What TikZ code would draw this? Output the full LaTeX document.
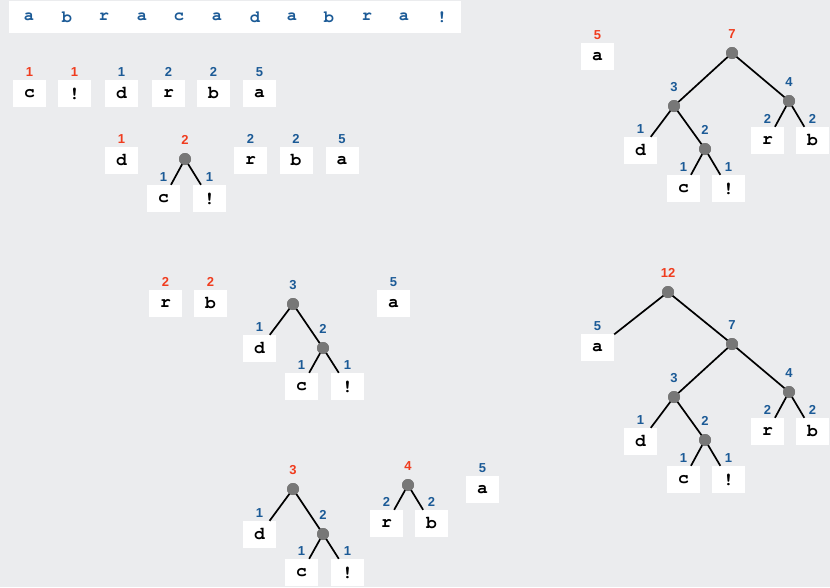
\documentclass[tikz,border=0pt]{standalone}
\usepackage{fontspec}
\setmonofont{TeX Gyre Cursor}
\newfontfamily\lblfont{Liberation Sans}
\definecolor{bg}{HTML}{EBECEE}
\definecolor{lblue}{HTML}{1B5A96}
\definecolor{lred}{HTML}{F03C1E}
\definecolor{dotgray}{HTML}{777777}
\tikzset{
  leafbox/.style={fill=white, minimum width=33pt, minimum height=27pt, inner sep=0pt,
    font=\ttfamily\bfseries\fontsize{18}{18}\selectfont},
  numlbl/.style={inner sep=0pt, font=\lblfont\bfseries\fontsize{13}{13}\selectfont},
  dotnode/.style={circle, fill=dotgray, minimum size=12pt, inner sep=0pt},
  edge/.style={draw=black, line width=1.7pt},
  barletter/.style={inner sep=0pt, text=lblue, font=\ttfamily\bfseries\fontsize{17}{17}\selectfont}
}
\newcommand\mkleaf[6]{%
  \node[leafbox] (#1) at (#2,#3) {#4};
  \node[numlbl, text=#5] (#1l) at (#2,#3-21.5) {#6};
}
\newcommand\mknode[5]{%
  \node[dotnode] (#1) at (#2,#3) {};
  \node[numlbl, text=#4] (#1l) at (#2,#3-19) {#5};
}
\begin{document}
\begin{tikzpicture}[x=1pt,y=-1pt]
\fill[bg] (0,0) rectangle (830,587);
\useasboundingbox (0,0) rectangle (830,587);
% top bar
\node[fill=white, minimum width=452pt, minimum height=32pt, inner sep=0pt] (bar) at (235,17) {};
\foreach \ch/\xx [count=\i] in {a/29,b/67,r/104,a/142,c/179,a/217,d/255,a/292,b/329,r/367,a/404,!/442}
  \node[barletter] (s\i) at (\xx,17) {\ch};
% row 1
\mkleaf{ac}{29.5}{93.5}{c}{lred}{1}
\mkleaf{ax}{74.5}{93.5}{!}{lred}{1}
\mkleaf{ad}{121.5}{93.5}{d}{lblue}{1}
\mkleaf{ar}{168.5}{93.5}{r}{lblue}{2}
\mkleaf{ab}{213.5}{93.5}{b}{lblue}{2}
\mkleaf{aa}{259.5}{93.5}{a}{lblue}{5}
% row 2
\mkleaf{bd}{121.5}{160.5}{d}{lred}{1}
\mknode{b2}{185}{159}{lred}{2}
\mkleaf{bc}{163.5}{198.5}{c}{lblue}{1}
\mkleaf{bx}{209.5}{198.5}{!}{lblue}{1}
\mkleaf{br}{250.5}{160.5}{r}{lblue}{2}
\mkleaf{bb}{296}{160.5}{b}{lblue}{2}
\mkleaf{ba}{342}{160.5}{a}{lblue}{5}
\draw[edge] (b2.center) -- (bc);
\draw[edge] (b2.center) -- (bx);
\node[dotnode] at (b2) {};
% row 3
\mkleaf{cr}{165.5}{303.5}{r}{lred}{2}
\mkleaf{cb}{210.5}{303.5}{b}{lred}{2}
\mknode{c3}{293}{304}{lblue}{3}
\mkleaf{cd}{259.5}{348.5}{d}{lblue}{1}
\mknode{c2}{323}{348}{lblue}{2}
\mkleaf{cc}{301.5}{386.5}{c}{lblue}{1}
\mkleaf{cx}{347.5}{386.5}{!}{lblue}{1}
\mkleaf{ca}{393.5}{303.5}{a}{lblue}{5}
\draw[edge] (c3.center) -- (cd);
\draw[edge] (c3.center) -- (c2.center);
\draw[edge] (c2.center) -- (cc);
\draw[edge] (c2.center) -- (cx);
\node[dotnode] at (c3) {};
\node[dotnode] at (c2) {};
% row 4
\mknode{d3}{293}{489}{lred}{3}
\mkleaf{dd}{259.5}{534.5}{d}{lblue}{1}
\mknode{d2}{323}{534}{lblue}{2}
\mkleaf{dc}{301.5}{572.5}{c}{lblue}{1}
\mkleaf{dx}{347.5}{572.5}{!}{lblue}{1}
\mknode{d4}{408}{485}{lred}{4}
\mkleaf{dr}{386.5}{523.5}{r}{lblue}{2}
\mkleaf{db}{431.5}{523.5}{b}{lblue}{2}
\mkleaf{da}{482.5}{489.5}{a}{lblue}{5}
\draw[edge] (d3.center) -- (dd);
\draw[edge] (d3.center) -- (d2.center);
\draw[edge] (d2.center) -- (dc);
\draw[edge] (d2.center) -- (dx);
\draw[edge] (d4.center) -- (dr);
\draw[edge] (d4.center) -- (db);
\foreach \n in {d3,d2,d4} \node[dotnode] at (\n) {};
% tree A
\mkleaf{ea}{597.5}{56.5}{a}{lred}{5}
\mknode{e7}{732}{53}{lred}{7}
\mknode{e3}{674}{106}{lblue}{3}
\mknode{e4}{789}{101}{lblue}{4}
\mkleaf{ed}{640.5}{150.5}{d}{lblue}{1}
\mknode{e2}{705}{149}{lblue}{2}
\mkleaf{ec}{683.5}{188.5}{c}{lblue}{1}
\mkleaf{ex}{728.5}{188.5}{!}{lblue}{1}
\mkleaf{er}{767.5}{140.5}{r}{lblue}{2}
\mkleaf{eb}{812.5}{140.5}{b}{lblue}{2}
\draw[edge] (e7.center) -- (e3.center);
\draw[edge] (e7.center) -- (e4.center);
\draw[edge] (e3.center) -- (ed);
\draw[edge] (e3.center) -- (e2.center);
\draw[edge] (e2.center) -- (ec);
\draw[edge] (e2.center) -- (ex);
\draw[edge] (e4.center) -- (er);
\draw[edge] (e4.center) -- (eb);
\foreach \n in {e7,e3,e4,e2} \node[dotnode] at (\n) {};
% tree B
\mknode{f12}{668}{292}{lred}{12}
\mkleaf{fa}{597.5}{347.5}{a}{lblue}{5}
\mknode{f7}{732}{344}{lblue}{7}
\mknode{f3}{674}{397}{lblue}{3}
\mknode{f4}{789}{392}{lblue}{4}
\mkleaf{fd}{640.5}{441.5}{d}{lblue}{1}
\mknode{f2}{705}{440}{lblue}{2}
\mkleaf{fc}{683.5}{479.5}{c}{lblue}{1}
\mkleaf{fx}{728.5}{479.5}{!}{lblue}{1}
\mkleaf{fr}{767.5}{431.5}{r}{lblue}{2}
\mkleaf{fb}{812.5}{431.5}{b}{lblue}{2}
\draw[edge] (f12.center) -- (fa);
\draw[edge] (f12.center) -- (f7.center);
\draw[edge] (f7.center) -- (f3.center);
\draw[edge] (f7.center) -- (f4.center);
\draw[edge] (f3.center) -- (fd);
\draw[edge] (f3.center) -- (f2.center);
\draw[edge] (f2.center) -- (fc);
\draw[edge] (f2.center) -- (fx);
\draw[edge] (f4.center) -- (fr);
\draw[edge] (f4.center) -- (fb);
\foreach \n in {f12,f7,f3,f4,f2} \node[dotnode] at (\n) {};
\end{tikzpicture}
\end{document}
